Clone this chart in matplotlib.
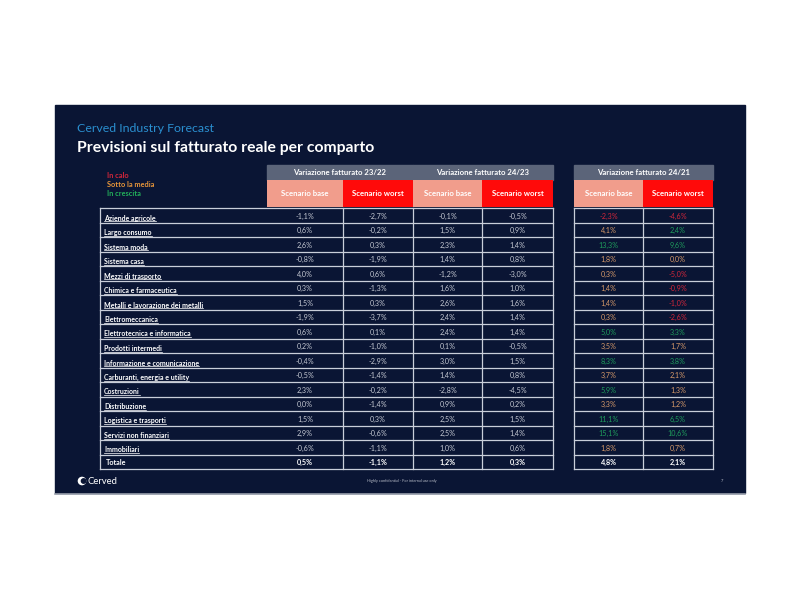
import matplotlib.pyplot as plt
from matplotlib.patches import Rectangle

plt.rcParams['font.family'] = ['Lato', 'DejaVu Sans']

# DATA
sectors = ['Aziende agricole', 'Largo consumo', 'Sistema moda', 'Sistema casa',
           'Mezzi di trasporto', 'Chimica e farmaceutica',
           'Metalli e lavorazione dei metalli', 'Elettromeccanica',
           'Elettrotecnica e informatica', 'Prodotti intermedi',
           'Informazione e comunicazione', 'Carburanti, energia e utility',
           'Costruzioni', 'Distribuzione', 'Logistica e trasporti',
           'Servizi non finanziari', 'Immobiliari']
var_23_22_base = [-1.1, 0.6, 2.6, -0.8, 4.0, 0.3, 1.5, -1.9, 0.6, 0.2, -0.4, -0.5, 2.3, 0.0, 1.5, 2.9, -0.6]
var_23_22_worst = [-2.7, -0.2, 0.3, -1.9, 0.6, -1.3, 0.3, -3.7, 0.1, -1.0, -2.9, -1.4, -0.2, -1.4, 0.3, -0.6, -1.1]
var_24_23_base = [-0.1, 1.5, 2.3, 1.4, -1.2, 1.6, 2.6, 2.4, 2.4, 0.1, 3.0, 1.4, -2.8, 0.9, 2.5, 2.5, 1.0]
var_24_23_worst = [-0.5, 0.9, 1.4, 0.8, -3.0, 1.0, 1.6, 1.4, 1.4, -0.5, 1.5, 0.8, -4.5, 0.2, 1.5, 1.4, 0.6]
var_24_21_base = [-2.3, 4.1, 13.3, 1.8, 0.3, 1.4, 1.4, 0.3, 5.0, 3.5, 8.3, 3.7, 5.9, 3.3, 11.1, 15.1, 1.8]
var_24_21_worst = [-4.6, 2.4, 9.6, 0.0, -5.0, -0.9, -1.0, -2.6, 3.3, 1.7, 3.8, 2.1, 1.3, 1.2, 6.5, 10.6, 0.7]
totals = [0.5, -1.1, 1.2, 0.3, 4.8, 2.1]
group_titles = ['Variazione fatturato 23/22', 'Variazione fatturato 24/23', 'Variazione fatturato 24/21']
scenarios = ['Scenario base', 'Scenario worst']

BG = '#0a1534'
LINE = '#c9ceda'
VAL = '#c4c8d2'
RED = '#d3263a'
ORANGE = '#d79a6a'
GREEN = '#1f9c5c'
SALMON = '#f19d8c'
HEADRED = '#ff0a0a'
GRAY = '#5b6479'


def fmt(v):
    return f'{v:.1f}'.replace('.', ',') + '%'


def colour_2421(v, tot):
    if v < 0:
        return RED
    if v > tot:
        return GREEN
    return ORANGE


fig = plt.figure(figsize=(8, 6), dpi=100)
ax = fig.add_axes([0, 0, 1, 1])
ax.set_xlim(0, 800)
ax.set_ylim(600, 0)
ax.axis('off')

# slide background
ax.add_patch(Rectangle((55, 105), 690, 388, color=BG, zorder=0))
ax.plot([55, 745], [493.5, 493.5], color='#9aa0ad', lw=1.2)

ax.text(77, 128, 'Cerved Industry Forecast', color='#2a8fd0', fontsize=8.9,
        va='center', ha='left')
ax.text(77, 148, 'Previsioni sul fatturato reale per comparto', color='white',
        fontsize=11.3, fontweight='bold', va='center', ha='left')

for txt, c, y in [('In calo', RED, 175.5), ('Sotto la media', '#e8963a', 184.5),
                  ('In crescita', '#22b15a', 193.5)]:
    ax.text(107, y, txt, color=c, fontsize=5.3, fontweight='bold', va='center')

# layout
top = 208
rh = 14.5
label_x0, label_x1 = 100, 267
col_edges = [(267, 343), (343, 413), (413, 482), (482, 553), (574, 643), (643, 713)]
columns = [var_23_22_base, var_23_22_worst, var_24_23_base, var_24_23_worst,
           var_24_21_base, var_24_21_worst]
nrows = len(sectors) + 1
bottom = top + nrows * rh

# headers
for g in range(3):
    x0 = col_edges[2 * g][0]
    x1 = col_edges[2 * g + 1][1]
    ax.add_patch(Rectangle((x0, 165), x1 - x0, 15, color=GRAY, zorder=1))
    ax.text((x0 + x1) / 2, 172.5, group_titles[g], color='white', fontsize=5.6,
            fontweight='bold', ha='center', va='center')
    for s in range(2):
        a, b = col_edges[2 * g + s]
        ax.add_patch(Rectangle((a, 180), b - a, 27, color=SALMON if s == 0 else HEADRED,
                               zorder=1, lw=0))
        ax.text((a + b) / 2, 193.5, scenarios[s], color='white', fontsize=5.6,
                fontweight='bold', ha='center', va='center')

# grid lines
for x_left, x_right in [(label_x0, col_edges[3][1]), (col_edges[4][0], col_edges[5][1])]:
    for r in range(nrows + 1):
        y = top + r * rh
        ax.plot([x_left, x_right], [y, y], color=LINE, lw=0.9, zorder=2)
for x in [label_x0] + [e[1] for e in col_edges[:4]] + [col_edges[4][0]] + [e[1] for e in col_edges[4:]]:
    ax.plot([x, x], [top, bottom], color=LINE, lw=0.9, zorder=2)

# labels
labels = []
for i, name in enumerate(sectors):
    t = ax.text(104, top + i * rh + 10, name, color='white', fontsize=5.0,
                fontweight='bold', ha='left', va='center')
    labels.append(t)
ax.text(106, top + (nrows - 1) * rh + 7.8, 'Totale', color='white', fontsize=5.2,
        fontweight='bold', ha='left', va='center')

# values
for c, vals in enumerate(columns):
    a, b = col_edges[c]
    for i, v in enumerate(vals):
        colour = VAL if c < 4 else colour_2421(v, totals[c])
        ax.text((a + b) / 2, top + i * rh + 8, fmt(v), color=colour, fontsize=5.2,
                ha='center', va='center')
    ax.text((a + b) / 2, top + (nrows - 1) * rh + 7.8, fmt(totals[c]), color='white',
            fontsize=5.2, fontweight='bold', ha='center', va='center')

# footer
ax.add_patch(plt.Circle((82, 481), 3.6, color='white'))
ax.add_patch(plt.Circle((83.6, 481), 2.2, color=BG))
ax.text(87, 481, 'Cerved', color='white', fontsize=6.8, va='center', ha='left')
ax.text(402, 481, 'Highly confidential - For internal use only', color='#b8bcc8',
        fontsize=2.8, ha='center', va='center')
ax.text(722, 481, '7', color='#b8bcc8', fontsize=3, ha='center', va='center')

# underline sector labels
fig.canvas.draw()
renderer = fig.canvas.get_renderer()
inv = ax.transData.inverted()
for t in labels:
    bb = t.get_window_extent(renderer)
    (x0, y0), (x1, y1) = inv.transform([[bb.x0, bb.y0], [bb.x1, bb.y1]])
    ax.plot([x0, x1], [y0 - 0.5, y0 - 0.5], color='white', lw=0.5, zorder=3)

fig.savefig('out.png', dpi=100, facecolor='white')
